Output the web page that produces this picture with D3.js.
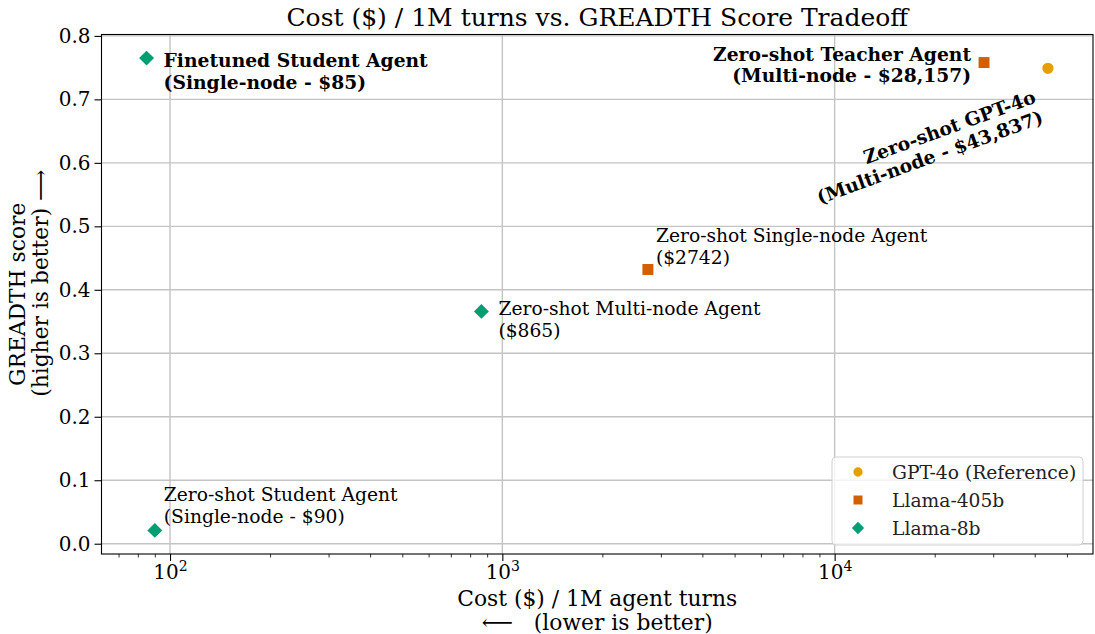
<!DOCTYPE html>
<html>
<head>
<meta charset="utf-8">
<script src="https://cdn.jsdelivr.net/npm/d3@7"></script>
<style>
  body { margin: 0; background: #fff; }
  svg { font-family: "DejaVu Serif", serif; }
</style>
</head>
<body>
<svg id="chart" width="1095" height="634"></svg>
<script>
// series in legend order
const seriesNames = ["GPT-4o (Reference)", "Llama-405b", "Llama-8b"];
const seriesColors = ["#E69F00", "#D55E00", "#009E73"];
const seriesShapes = ["circle", "square", "diamond"];

// points: cost per 1M turns, GREADTH score, which series, label lines
const pointCost = [43837, 28157, 2742, 85, 865, 90];
const pointScore = [0.749, 0.758, 0.432, 0.765, 0.366, 0.021];
const pointSeries = [0, 1, 1, 2, 2, 2];
const pointLabels = [
  ["Zero-shot GPT-4o", "(Multi-node - $43,837)"],
  ["Zero-shot Teacher Agent", "(Multi-node - $28,157)"],
  ["Zero-shot Single-node Agent", "($2742)"],
  ["Finetuned Student Agent", "(Single-node - $85)"],
  ["Zero-shot Multi-node Agent", "($865)"],
  ["Zero-shot Student Agent", "(Single-node - $90)"]
];

const yTicks = [0.0, 0.1, 0.2, 0.3, 0.4, 0.5, 0.6, 0.7, 0.8];
const xTicks = [100, 1000, 10000];

const svg = d3.select("#chart");
const margin = { left: 101.5, right: 2, top: 34.5, bottom: 80 };
const W = 1095, H = 634;
const cx = (margin.left + W - margin.right) / 2;

// matplotlib-ish 5% padding on data range
const lx = d3.extent(pointCost, d => Math.log10(d));
const padX = (lx[1] - lx[0]) * 0.05;
const ly = d3.extent(pointScore);
const padY = (ly[1] - ly[0]) * 0.05;

const x = d3.scaleLog()
  .domain([10 ** (lx[0] - padX), 10 ** (lx[1] + padX)])
  .range([margin.left, W - margin.right]);
const y = d3.scaleLinear()
  .domain([ly[0] - padY, ly[1] + padY])
  .range([H - margin.bottom, margin.top]);

// grid
const grid = svg.append("g").attr("stroke", "#c4c4c4").attr("stroke-width", 1.4);
grid.selectAll(".gx").data(xTicks).join("line")
  .attr("x1", d => x(d)).attr("x2", d => x(d))
  .attr("y1", margin.top).attr("y2", H - margin.bottom);
grid.selectAll(".gy").data(yTicks).join("line")
  .attr("y1", d => y(d)).attr("y2", d => y(d))
  .attr("x1", margin.left).attr("x2", W - margin.right);

// minor x ticks (2..9 per decade)
const minor = [];
for (let e = 1; e <= 4; e++) {
  for (let m = 2; m <= 9; m++) {
    const v = m * 10 ** e;
    if (v > x.domain()[0] && v < x.domain()[1]) minor.push(v);
  }
}

const xAxisMinor = d3.axisBottom(x).tickValues(minor).tickSize(3.5).tickFormat("");
svg.append("g")
  .attr("transform", `translate(0,${H - margin.bottom})`)
  .call(xAxisMinor)
  .call(g => g.select(".domain").remove())
  .call(g => g.selectAll("line").attr("stroke", "#000").attr("stroke-width", 0.8));

const xAxis = d3.axisBottom(x).tickValues(xTicks).tickSize(7).tickFormat("");
const gx = svg.append("g")
  .attr("transform", `translate(0,${H - margin.bottom})`)
  .call(xAxis);
gx.select(".domain").remove();
gx.selectAll("line").attr("stroke", "#000").attr("stroke-width", 1.1);
gx.selectAll(".tick").append("text")
  .attr("y", 25)
  .attr("fill", "#000")
  .attr("text-anchor", "middle")
  .style("font-size", "20px")
  .style("font-family", "DejaVu Serif")
  .each(function (d) {
    const t = d3.select(this);
    const e = Math.round(Math.log10(d));
    t.append("tspan").text("10");
    t.append("tspan").attr("dy", -8).style("font-size", "14px").text(e);
  });

const yAxis = d3.axisLeft(y).tickValues(yTicks).tickSize(7).tickPadding(4).tickFormat(d3.format(".1f"));
const gy = svg.append("g")
  .attr("transform", `translate(${margin.left},0)`)
  .call(yAxis);
gy.select(".domain").remove();
gy.selectAll("line").attr("stroke", "#000").attr("stroke-width", 1.1);
gy.selectAll("text")
  .style("font-size", "20px")
  .style("font-family", "DejaVu Serif")
  .attr("fill", "#000");

// frame
svg.append("rect")
  .attr("x", margin.left).attr("y", margin.top)
  .attr("width", W - margin.right - margin.left)
  .attr("height", H - margin.bottom - margin.top)
  .attr("fill", "none").attr("stroke", "#000").attr("stroke-width", 1.1);

// markers
function symbolPath(shape) {
  if (shape === "circle") return d3.symbol(d3.symbolCircle, 100)();
  if (shape === "square") return d3.symbol(d3.symbolSquare, 120)();
  return d3.symbol(d3.symbolSquare, 112)();
}
const pts = pointCost.map((c, i) => ({ c, s: pointScore[i], k: pointSeries[i], lab: pointLabels[i] }));
svg.append("g").selectAll("path").data(pts).join("path")
  .attr("d", d => symbolPath(seriesShapes[d.k]))
  .attr("transform", d => `translate(${x(d.c)},${y(d.s)})` + (seriesShapes[d.k] === "diamond" ? " rotate(45)" : ""))
  .attr("fill", d => seriesColors[d.k]);

// annotation placement (offsets in px from marker)
const annot = [
  { dx: -11, dy: 34, anchor: "end", bold: true, rotate: -20 },
  { dx: -13, dy: -2, anchor: "end", bold: true },
  { dx: 8, dy: -27, anchor: "start", bold: false },
  { dx: 17, dy: 9, anchor: "start", bold: true },
  { dx: 17, dy: 4, anchor: "start", bold: false },
  { dx: 9, dy: -29, anchor: "start", bold: false }
];
const lab = svg.append("g").selectAll("text").data(pts).join("text")
  .attr("transform", (d, i) => {
    const a = annot[i];
    return `translate(${x(d.c) + a.dx},${y(d.s) + a.dy})` + (a.rotate ? ` rotate(${a.rotate})` : "");
  })
  .attr("text-anchor", (d, i) => annot[i].anchor)
  .style("font-size", "18.7px")
  .style("font-weight", (d, i) => annot[i].bold ? "bold" : "normal")
  .attr("fill", "#000");
lab.selectAll("tspan").data(d => d.lab).join("tspan")
  .attr("x", 0)
  .attr("dy", (d, j) => j === 0 ? 0 : 21.5)
  .text(d => d);

// legend
const lg = svg.append("g").attr("transform", "translate(832,457)");
lg.append("rect")
  .attr("width", 251).attr("height", 88).attr("rx", 4)
  .attr("fill", "#fff").attr("fill-opacity", 0.8)
  .attr("stroke", "#d0d0d0").attr("stroke-width", 1);
const li = lg.selectAll("g.it").data(seriesNames).join("g")
  .attr("transform", (d, i) => `translate(0,${15 + i * 28})`);
li.append("path")
  .attr("d", (d, i) => symbolPath(seriesShapes[i]))
  .attr("transform", (d, i) => `translate(26,0) scale(0.82)` + (seriesShapes[i] === "diamond" ? " rotate(45)" : ""))
  .attr("fill", (d, i) => seriesColors[i]);
li.append("text")
  .attr("x", 60).attr("y", 6.5)
  .style("font-size", "18.7px")
  .attr("fill", "#222")
  .text(d => d);

// title and axis labels
svg.append("text")
  .attr("x", cx).attr("y", 26)
  .attr("text-anchor", "middle")
  .style("font-size", "25px")
  .text("Cost ($) / 1M turns vs. GREADTH Score Tradeoff");

// two separate lines so they don't share one box
const xLabelLines = ["Cost ($) / 1M agent turns", "⟵   (lower is better)"];
svg.append("g").selectAll("text").data(xLabelLines).join("text")
  .attr("x", cx)
  .attr("y", (d, i) => 606 + i * 23.5)
  .attr("text-anchor", "middle")
  .style("font-size", "21.8px")
  .style("white-space", "pre")
  .text(d => d);

const yl = svg.append("text")
  .attr("transform", `translate(25,${(margin.top + H - margin.bottom) / 2}) rotate(-90)`)
  .attr("text-anchor", "middle")
  .style("font-size", "21.8px");
yl.append("tspan").attr("x", 0).text("GREADTH score");
yl.append("tspan").attr("x", 11).attr("dy", 23).text("(higher is better) ⟶");
</script>
</body>
</html>
